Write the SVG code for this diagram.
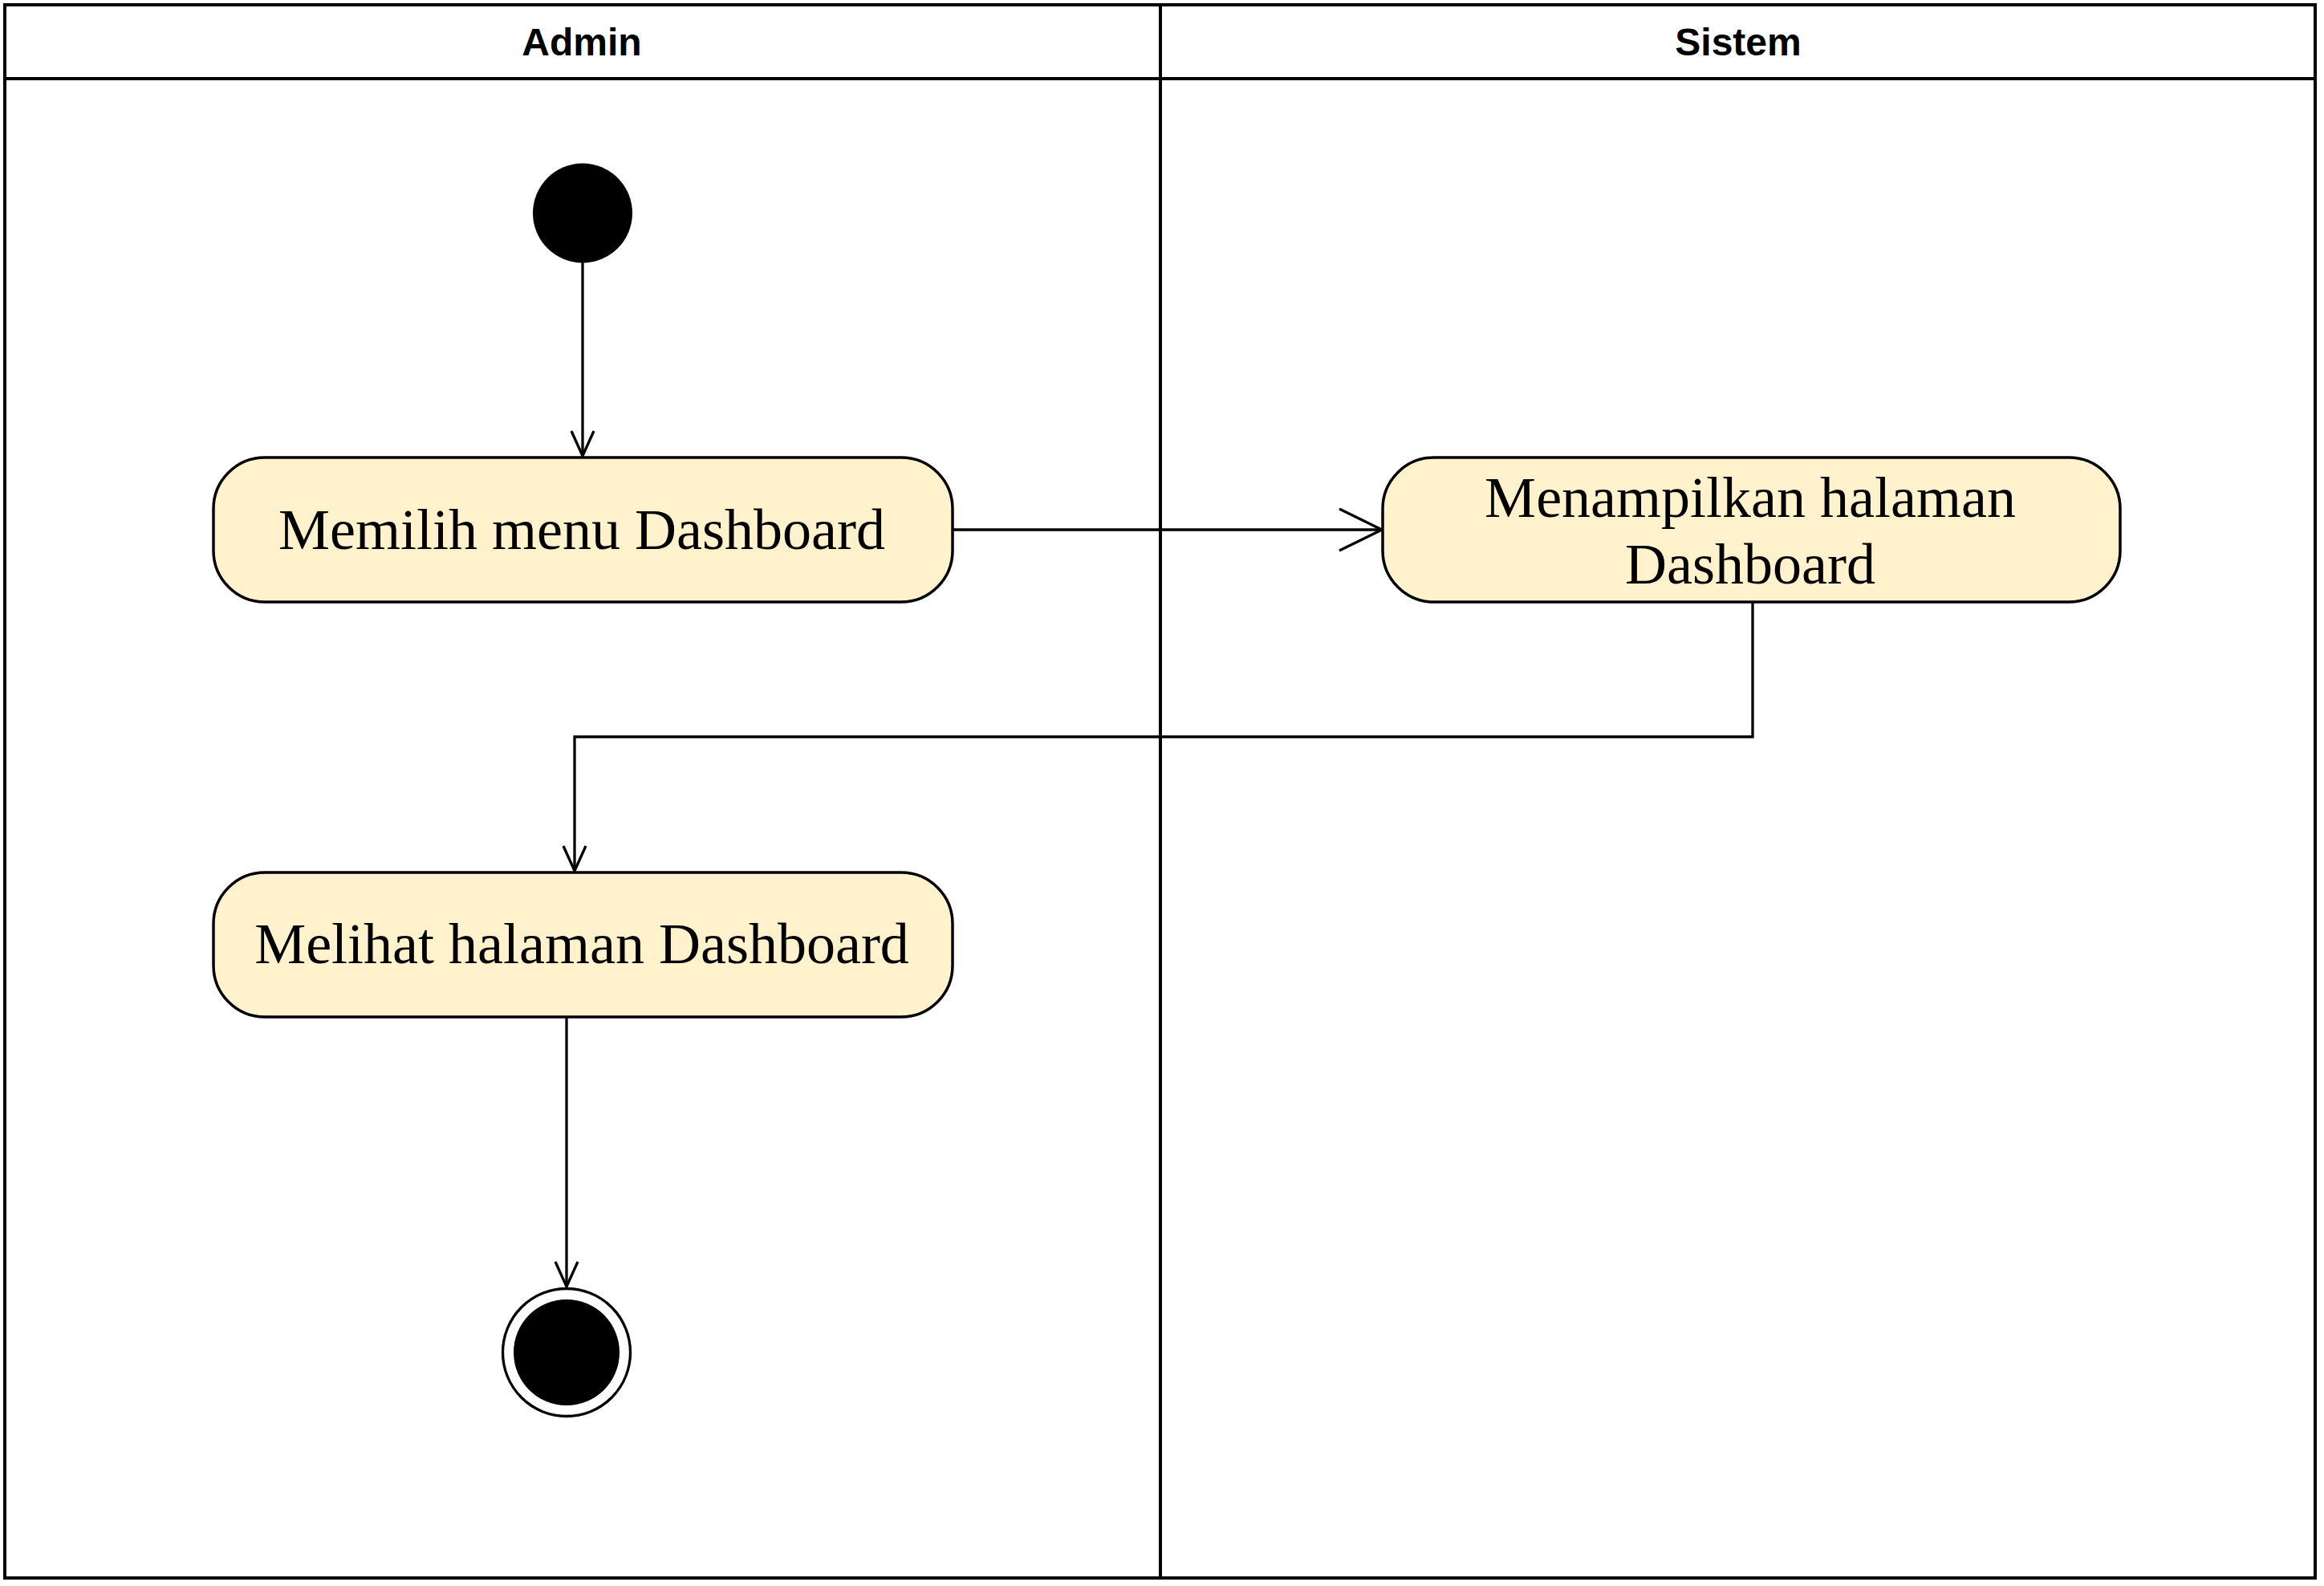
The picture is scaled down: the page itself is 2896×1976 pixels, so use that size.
<svg xmlns="http://www.w3.org/2000/svg" width="2896" height="1976" viewBox="0 0 2896 1976">
<defs>
<style>
.lane{fill:none;stroke:#000;stroke-width:4}
.hdr{font-family:"Liberation Sans",Arial,sans-serif;font-weight:bold;font-size:48px;text-anchor:middle;fill:#000}
.act{fill:#FFF2CC;stroke:#000;stroke-width:3.5}
.lbl{font-family:"Liberation Serif","Times New Roman",serif;font-size:72px;text-anchor:middle;fill:#000}
.edge{fill:none;stroke:#000;stroke-width:3.3}
</style>
<marker id="arrS" markerUnits="userSpaceOnUse" orient="auto" overflow="visible" markerWidth="1" markerHeight="1" refX="0" refY="0">
<path d="M-31,-14 L0,0 L-31,14" fill="none" stroke="#000" stroke-width="3.3"/>
</marker>
<marker id="arrL" markerUnits="userSpaceOnUse" orient="auto" overflow="visible" markerWidth="1" markerHeight="1" refX="0" refY="0">
<path d="M-53,-26 L0,0 L-53,26" fill="none" stroke="#000" stroke-width="3.3"/>
</marker>
</defs>
<rect x="0" y="0" width="2896" height="1976" fill="#fff"/>
<g id="lanes">
<rect class="lane" x="6" y="6" width="2879" height="1960" fill="#fff"/>
<line class="lane" x1="6" y1="98" x2="2885" y2="98"/>
<line class="lane" x1="1446" y1="6" x2="1446" y2="1966"/>
<text class="hdr" x="725" y="69">Admin</text>
<text class="hdr" x="2166" y="69">Sistem</text>
</g>
<g id="connectors">
<path class="edge" d="M726,327 V568" marker-end="url(#arrS)"/>
<path class="edge" d="M1187,660 H1722" marker-end="url(#arrL)"/>
<path class="edge" d="M2184,750 V918 H716 V1085" marker-end="url(#arrS)"/>
<path class="edge" d="M706,1267 V1603" marker-end="url(#arrS)"/>
</g>
<g id="start">
<circle cx="726" cy="265.5" r="62" fill="#000"/>
</g>
<g id="memilih">
<rect class="act" x="266" y="570" width="921" height="180" rx="64" ry="64"/>
<text class="lbl" x="725" y="684">Memilih menu Dashboard</text>
</g>
<g id="menampilkan">
<rect class="act" x="1723" y="570" width="919" height="180" rx="64" ry="64"/>
<text class="lbl" x="2181" y="644">Menampilkan halaman</text>
<text class="lbl" x="2181" y="727">Dashboard</text>
</g>
<g id="melihat">
<rect class="act" x="266" y="1087" width="921" height="180" rx="64" ry="64"/>
<text class="lbl" x="725" y="1200">Melihat halaman Dashboard</text>
</g>
<g id="end">
<circle cx="706" cy="1685" r="79.5" fill="#fff" stroke="#000" stroke-width="3.3"/>
<circle cx="706" cy="1685" r="66" fill="#000"/>
</g>
</svg>
